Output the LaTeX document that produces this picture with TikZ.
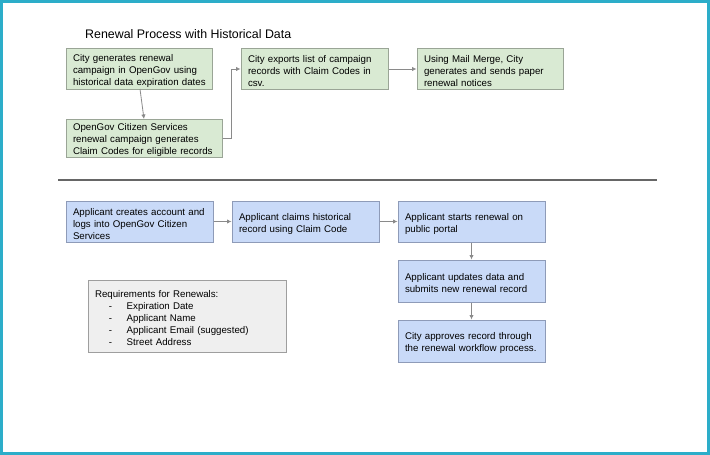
\documentclass[tikz,border=0pt]{standalone}
\usepackage{fontspec}
\setmainfont{Liberation Sans}
\usetikzlibrary{arrows.meta}
\definecolor{frame}{HTML}{2CADC9}
\definecolor{gfill}{HTML}{D9EAD3}
\definecolor{gline}{HTML}{9AA596}
\definecolor{bfill}{HTML}{C9DAF8}
\definecolor{bline}{HTML}{8E9BB8}
\definecolor{rfill}{HTML}{EFEFEF}
\definecolor{rline}{HTML}{9E9E9E}
\definecolor{arr}{HTML}{8A8A8A}
\tikzset{
  x=1pt, y=-1pt,
  box/.style={draw, line width=1pt, inner xsep=4pt, inner ysep=0pt, align=left,
    font=\fontsize{9.7}{12}\selectfont, text height=11.5pt,
    execute at begin node={\leftskip=3pt\relax}},
  gbox/.style={box, fill=gfill, draw=gline},
  bbox/.style={box, fill=bfill, draw=bline},
  rbox/.style={box, fill=rfill, draw=rline},
  conn/.style={draw=arr, line width=0.8pt, -{Latex[length=4.5pt,width=4.5pt]}},
}
\begin{document}
\begin{tikzpicture}
\useasboundingbox (0,0) rectangle (710,455);
\draw[frame, line width=2.5pt] (1.25,1.25) rectangle (708.25,453.25);

\node[anchor=base west, font=\fontsize{12.4}{14}\selectfont, inner sep=0pt] (title) at (85,38.5) {Renewal Process with Historical Data};

% top row
\node[gbox, minimum width=146pt, minimum height=41pt, text width=138pt] (A) at (139,68.5)
  {City generates renewal\\campaign in OpenGov using\\historical data expiration dates};
\node[gbox, minimum width=156pt, minimum height=38pt, text width=148pt] (B) at (144,138)
  {OpenGov Citizen Services\\renewal campaign generates\\Claim Codes for eligible records};
\node[gbox, minimum width=147pt, minimum height=41pt, text width=139pt] (C) at (314.5,68.5)
  {City exports list of campaign\\records with Claim Codes in\\csv.};
\node[gbox, minimum width=146pt, minimum height=41pt, text width=138pt] (D) at (490,68.5)
  {Using Mail Merge, City\\generates and sends paper\\renewal notices};

\coordinate (Abot) at (140,89);
\coordinate (Btop) at (144,119);
\draw[conn] (Abot) -- (Btop);
\coordinate (bend1) at (231,138);
\coordinate (bend2) at (231,69);
\draw[conn] (B.east) -- (bend1) -- (bend2) -- (C.west |- bend2);
\draw[conn] (C.east |- bend2) -- (D.west |- bend2);

% separator
\coordinate (s1) at (58,180);
\coordinate (s2) at (657,180);
\draw[draw=black!60, line width=1.3pt] (s1) -- (s2);

% bottom row
\node[bbox, minimum width=147pt, minimum height=41pt, text width=139pt] (E) at (139.5,221.5)
  {Applicant creates account and\\logs into OpenGov Citizen\\Services};
\node[bbox, minimum width=147pt, minimum height=41pt, text width=139pt] (F) at (305.5,221.5)
  {Applicant claims historical\\record using Claim Code};
\node[bbox, minimum width=147pt, minimum height=41pt, text width=139pt] (G) at (471.5,221.5)
  {Applicant starts renewal on\\public portal};
\node[bbox, minimum width=147pt, minimum height=42pt, text width=139pt] (H) at (471.5,281)
  {Applicant updates data and\\submits new renewal record};
\node[bbox, minimum width=147pt, minimum height=42pt, text width=139pt] (I) at (471.5,341)
  {City approves record through\\the renewal workflow process.};

\draw[conn] (E) -- (F);
\draw[conn] (F) -- (G);
\draw[conn] (G) -- (H);
\draw[conn] (H) -- (I);

\node[rbox, minimum width=198pt, minimum height=72pt, text width=190pt] (R) at (187,316)
  {Requirements for Renewals:\\
   \hspace*{14pt}-\hspace{14.5pt}Expiration Date\\
   \hspace*{14pt}-\hspace{14.5pt}Applicant Name\\
   \hspace*{14pt}-\hspace{14.5pt}Applicant Email (suggested)\\
   \hspace*{14pt}-\hspace{14.5pt}Street Address};
\end{tikzpicture}
\end{document}
